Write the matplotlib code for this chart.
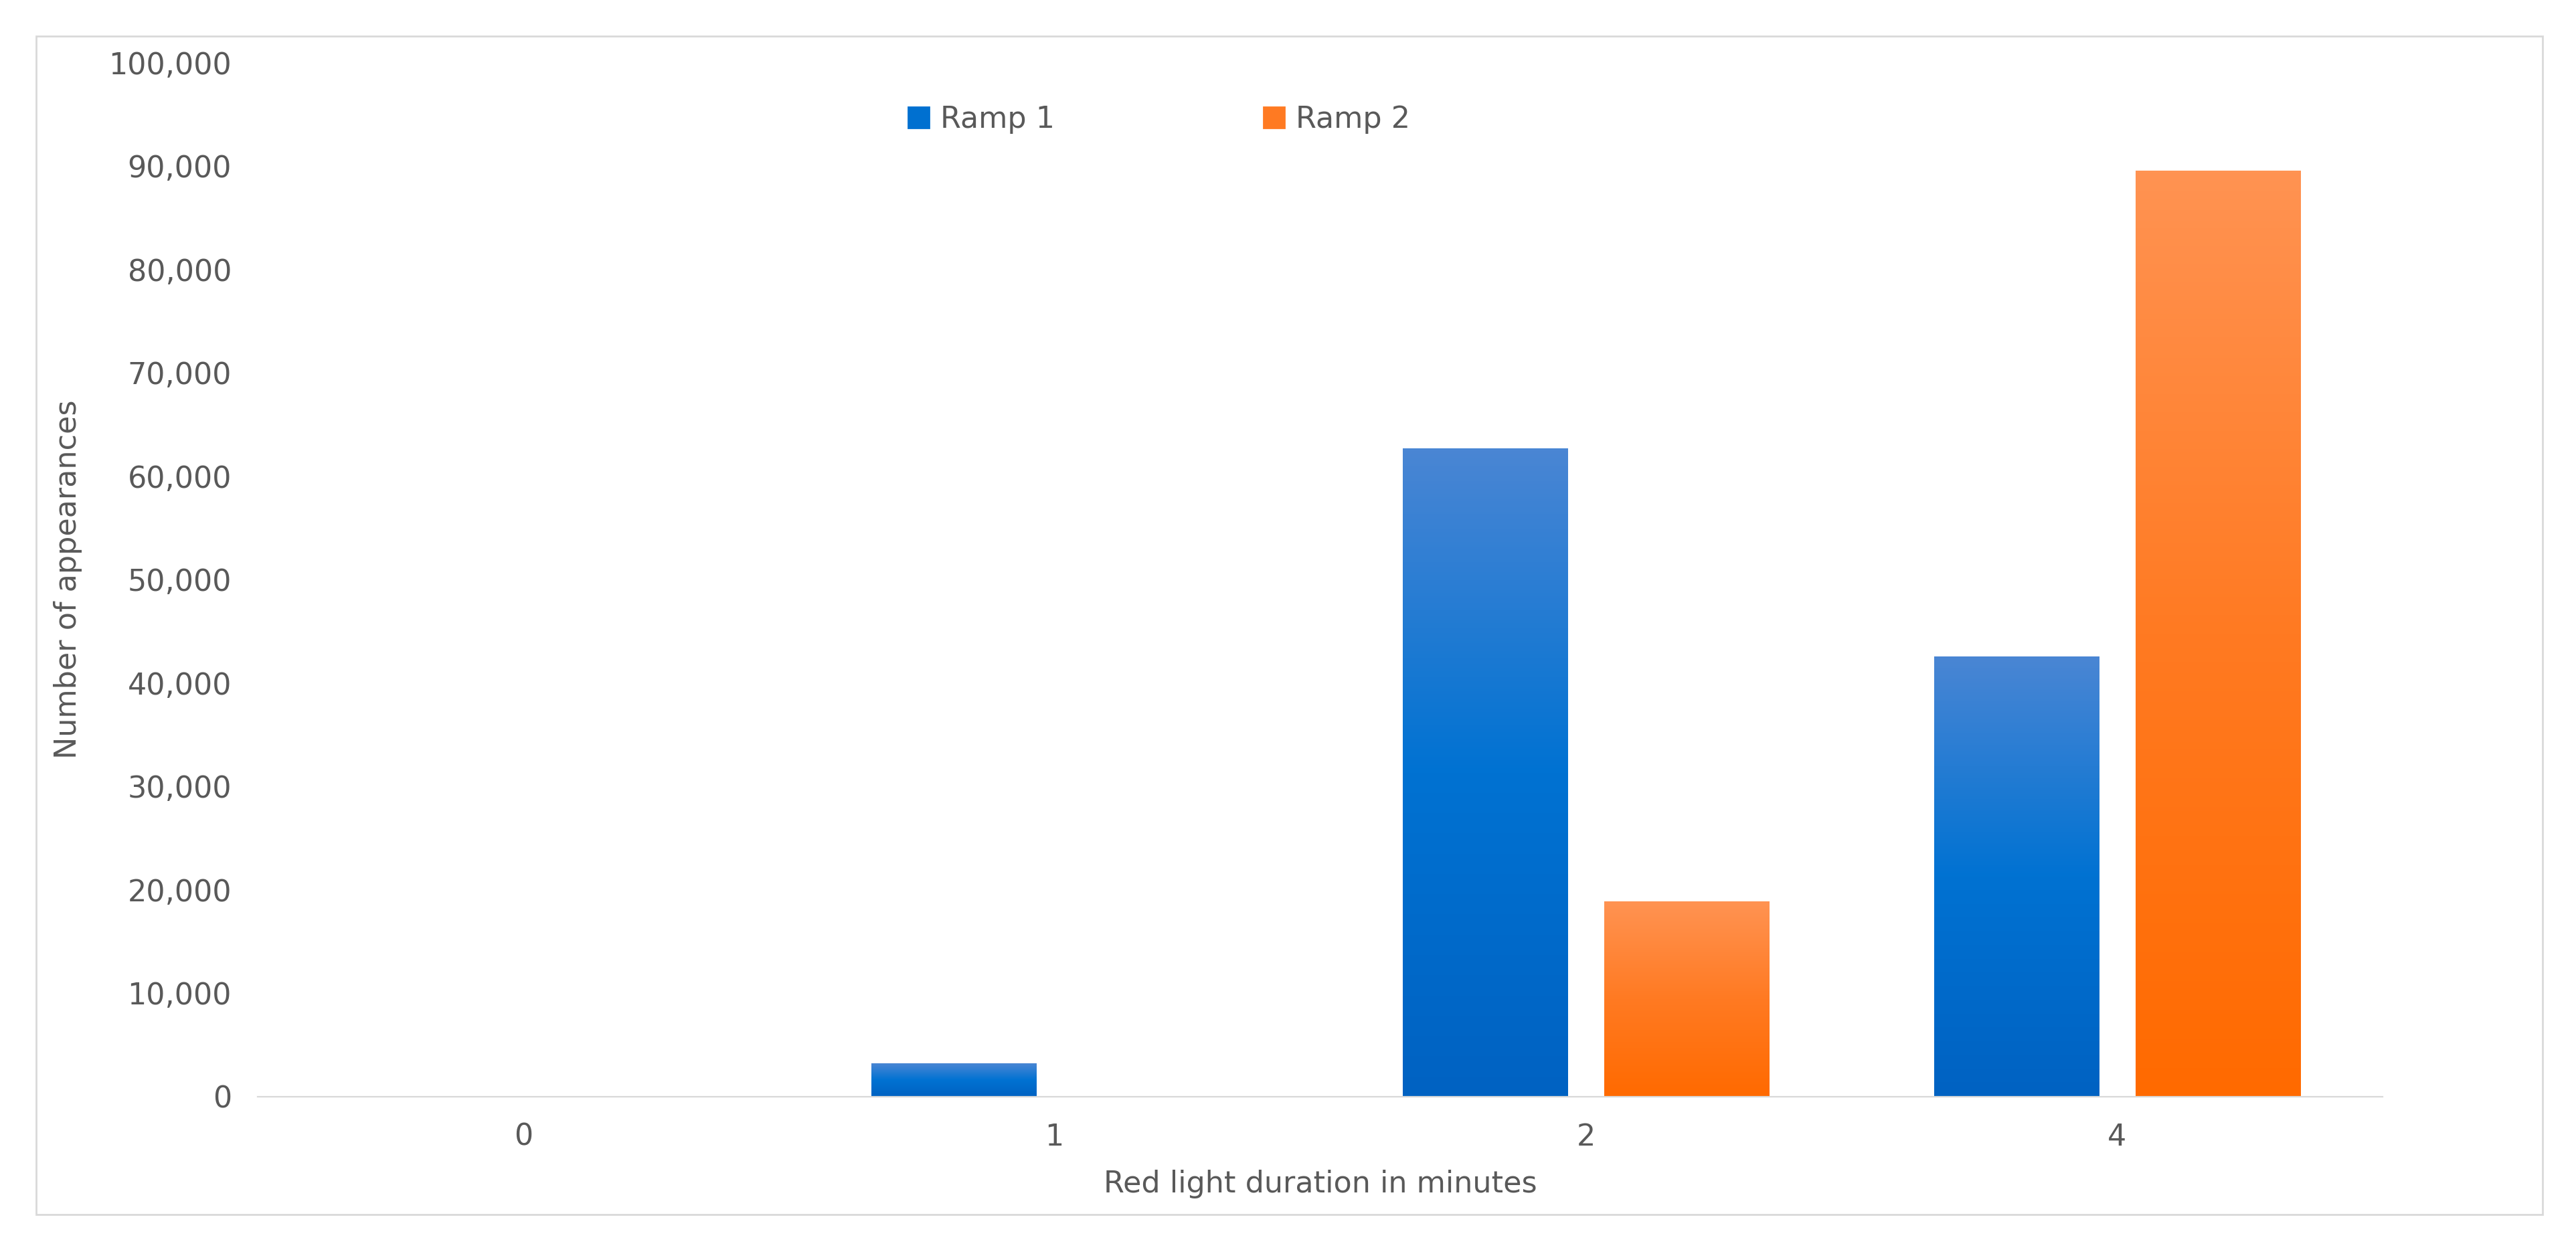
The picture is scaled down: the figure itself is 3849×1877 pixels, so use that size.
import matplotlib
matplotlib.use("Agg")
import matplotlib.pyplot as plt
import numpy as np
from matplotlib.patches import Rectangle, Patch

categories = ["0", "1", "2", "4"]
ramp1 = [0, 3200, 62700, 42600]
ramp2 = [0, 0, 18900, 89600]
yticks = list(range(0, 100001, 10000))

fig = plt.figure(figsize=(19.245, 9.385), dpi=200)
ax = fig.add_axes([0.100, 0.127, 0.825, 0.823])
border = Rectangle((0.014, 0.033), 0.973, 0.938, transform=fig.transFigure,
                   fill=False, edgecolor="#d9d9d9", lw=1)
fig.patches.append(border)

x = np.arange(len(categories))
w = 0.31
off = 0.19
grads = {
    "b": ["#0062c2", "#0072d2", "#4a86d4"],
    "o": ["#ff6a00", "#ff7a22", "#ff9352"],
}
from matplotlib.colors import LinearSegmentedColormap
cmaps = {k: LinearSegmentedColormap.from_list(k, v) for k, v in grads.items()}
grad = np.linspace(0, 1, 256).reshape(-1, 1)

def draw(xs, vals, key):
    bars = ax.bar(xs, vals, w, color="none", edgecolor="none")
    for b in bars:
        h = b.get_height()
        if h <= 0:
            continue
        x0 = b.get_x()
        im = ax.imshow(grad, cmap=cmaps[key], aspect="auto", origin="lower",
                       extent=[x0, x0 + w, 0, h], zorder=2)
        im.set_clip_path(b)

draw(x - off, ramp1, "b")
draw(x + off, ramp2, "o")

ax.set_xlim(-0.5, 3.5)
ax.set_ylim(0, 100000)
ax.set_xticks(x)
ax.set_xticklabels(categories)
ax.set_yticks(yticks)
ax.set_yticklabels([f"{v:,}" for v in yticks])
for s in ["top", "right", "left"]:
    ax.spines[s].set_visible(False)
ax.spines["bottom"].set_color("#d9d9d9")
ax.tick_params(length=0, labelsize=16, colors="#595959", pad=14)
ax.set_xlabel("Red light duration in minutes", fontsize=16, color="#595959", labelpad=10)
ax.set_ylabel("Number of appearances", fontsize=16, color="#595959", labelpad=14)

handles = [Patch(color="#0070d0"), Patch(color="#ff7a22")]
fig.legend(handles, ["Ramp 1", "Ramp 2"], loc="center", bbox_to_anchor=(0.45, 0.905),
           ncol=2, frameon=False, fontsize=16, labelcolor="#595959",
           handlelength=0.7, handleheight=0.7, handletextpad=0.4, columnspacing=7)
fig.savefig("out.png", dpi=200)
